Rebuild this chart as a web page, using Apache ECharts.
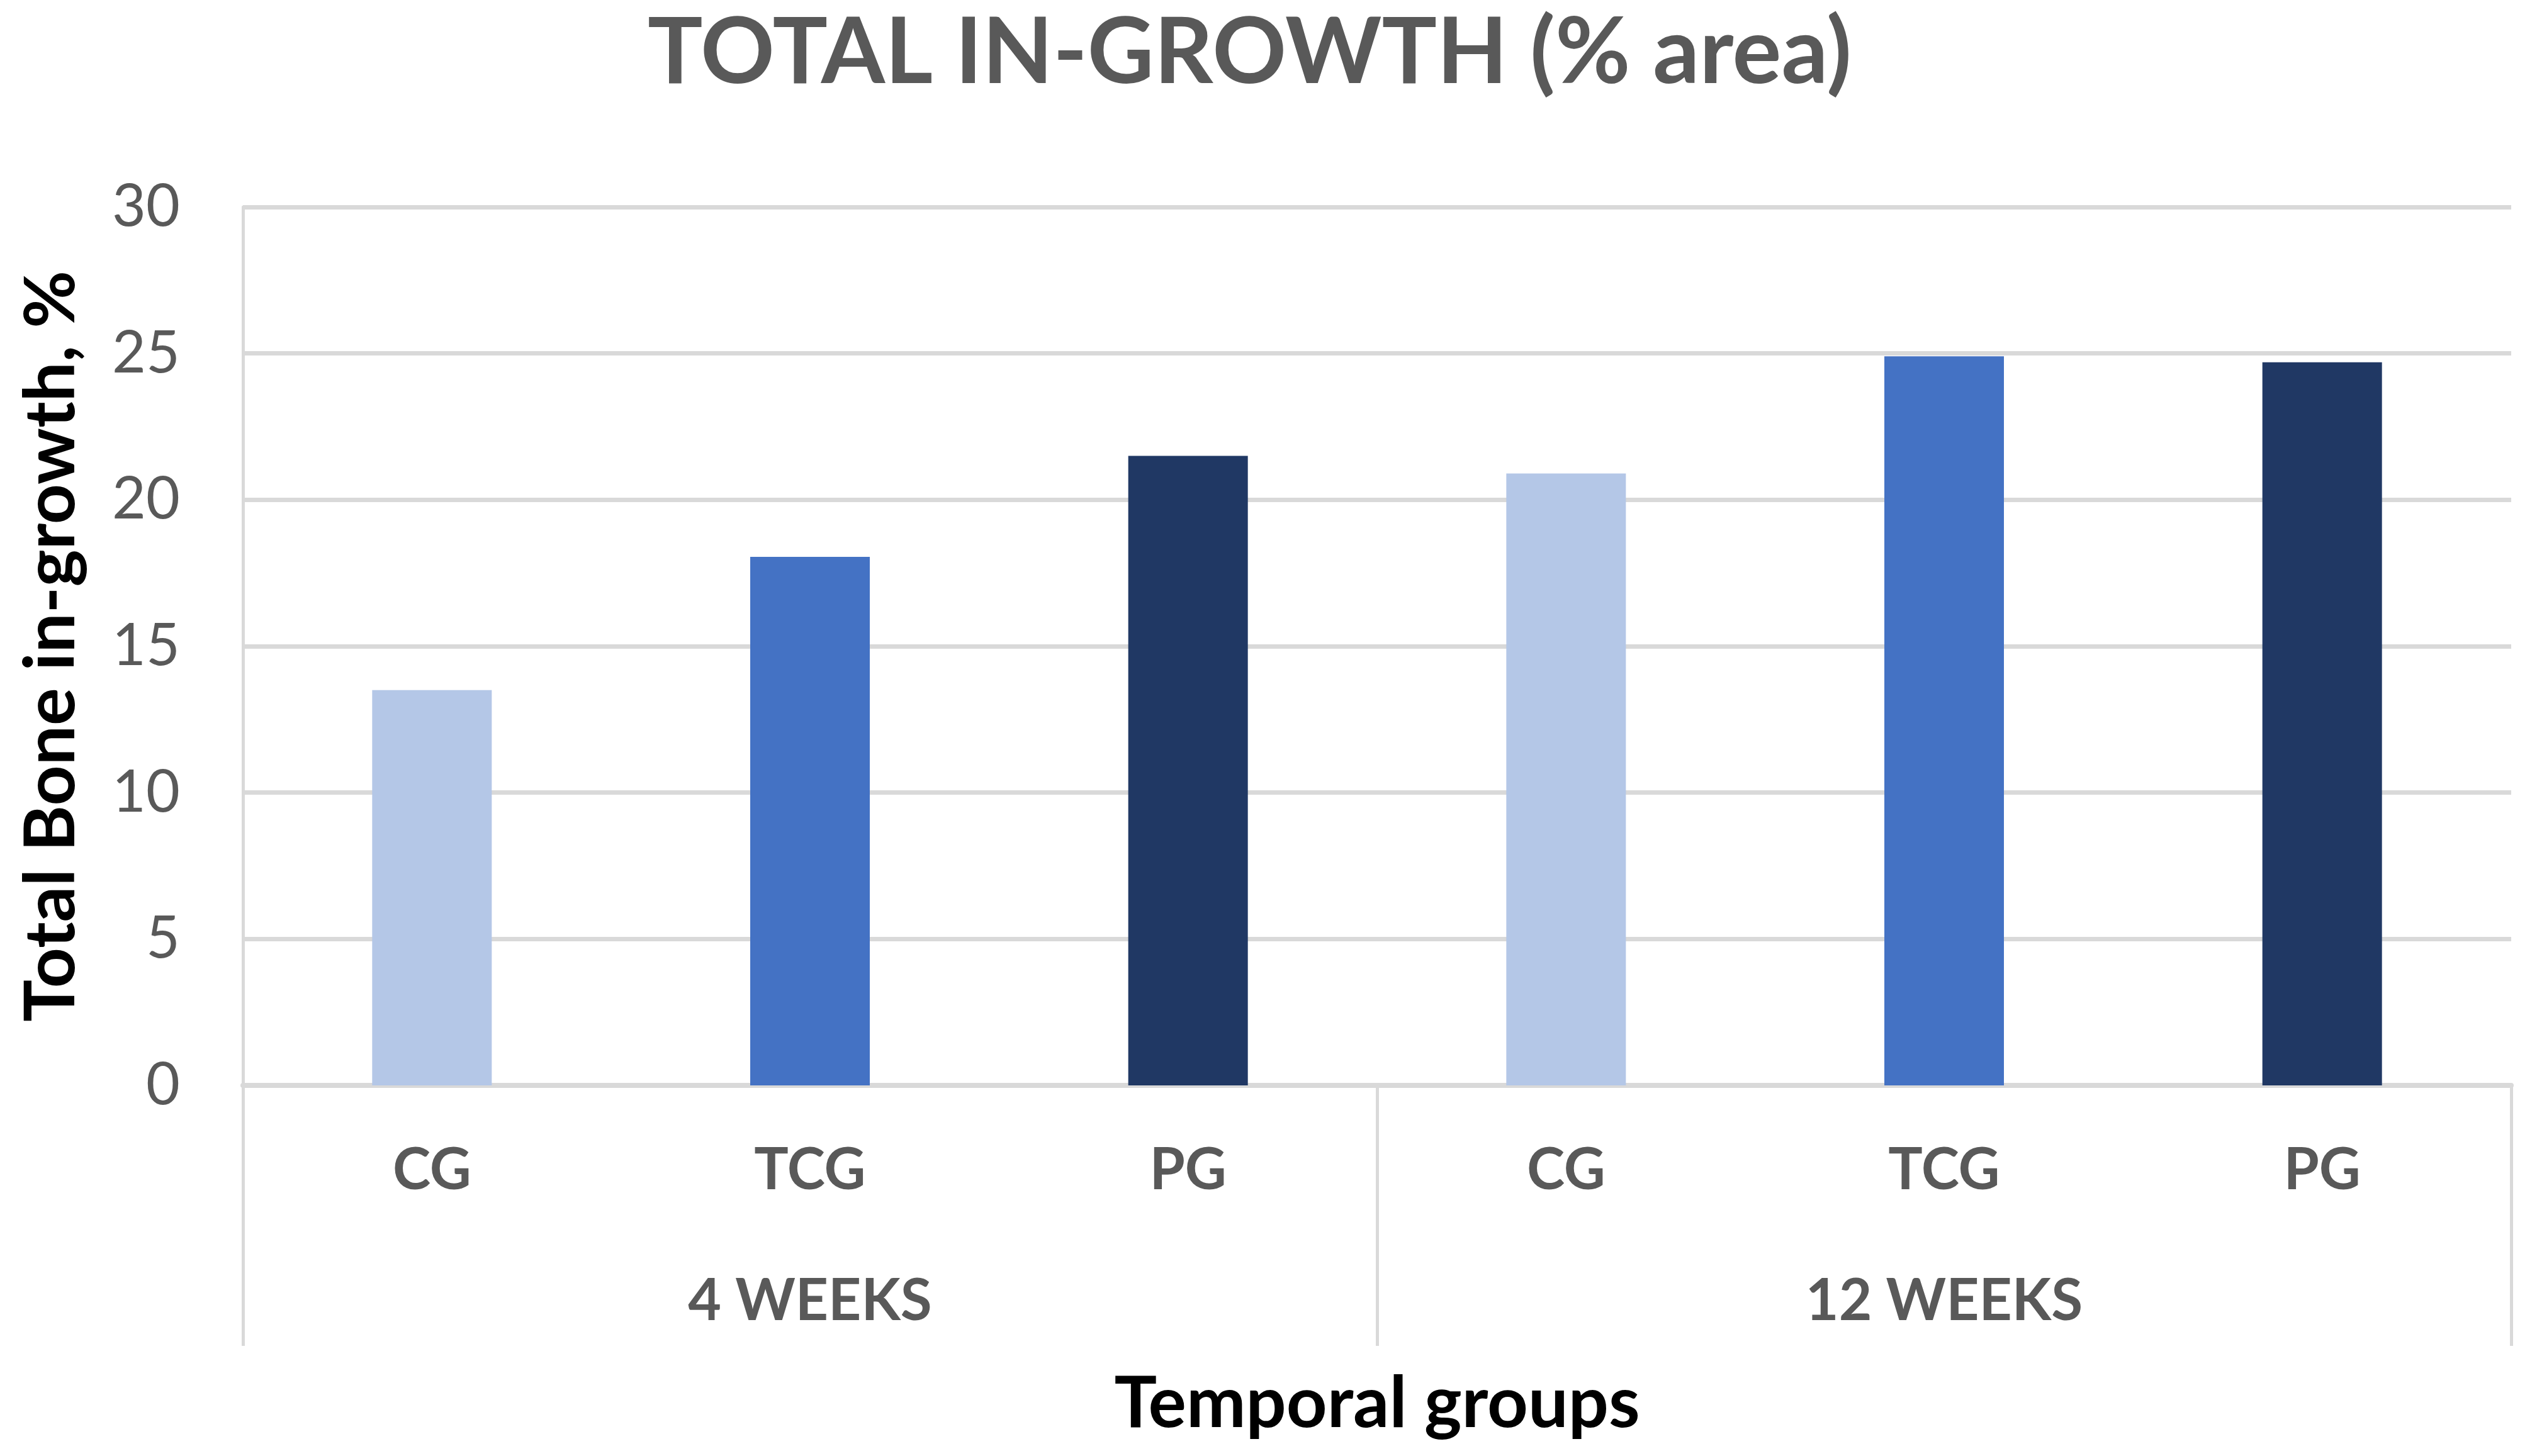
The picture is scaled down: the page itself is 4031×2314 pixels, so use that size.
<!DOCTYPE html>
<html>
<head>
<meta charset="utf-8">
<script src="https://cdn.jsdelivr.net/npm/echarts@6/dist/echarts.min.js"></script>
<style>
html,body{margin:0;padding:0;background:#fff;}
#chart{width:4031px;height:2314px;}
</style>
</head>
<body>
<div id="chart"></div>
<script>
const titleText = 'TOTAL IN-GROWTH (% area)';
const yAxisTitle = 'Total Bone in-growth, %';
const xAxisTitle = 'Temporal groups';
const categories = ['CG', 'TCG', 'PG', 'CG', 'TCG', 'PG'];
const groups = ['4 WEEKS', '12 WEEKS'];
const values = [13.5, 18.05, 21.5, 20.9, 24.9, 24.7];
const barColors = ['#B4C7E7', '#4472C4', '#203864', '#B4C7E7', '#4472C4', '#203864'];
const yTicks = { min: 0, max: 30, interval: 5 };

const FONT = 'Lato';
const chart = echarts.init(document.getElementById('chart'));
chart.setOption({
  backgroundColor: '#ffffff',
  animation: false,
  title: {
    text: titleText,
    left: 1024,
    top: 7,
    textStyle: { fontFamily: FONT, fontWeight: 'bold', fontSize: 146, color: '#595959' }
  },
  grid: { left: 386, right: 41, top: 329, bottom: 589 },
  xAxis: [
    {
      type: 'category',
      data: categories,
      position: 'bottom',
      axisLine: { show: true, lineStyle: { color: '#D9D9D9', width: 8 } },
      axisTick: { show: false },
      axisLabel: { interval: 0, margin: 90, fontFamily: FONT, fontWeight: 'bold', fontSize: 91, color: '#595959' }
    },
    {
      type: 'category',
      data: groups,
      position: 'bottom',
      axisLine: { show: false },
      axisTick: { show: true, interval: 0, length: 414, lineStyle: { color: '#D9D9D9', width: 5 } },
      axisLabel: { interval: 0, margin: 298, fontFamily: FONT, fontWeight: 'bold', fontSize: 91, color: '#595959' },
      name: xAxisTitle,
      nameLocation: 'middle',
      nameGap: 450,
      nameTextStyle: { fontFamily: FONT, fontWeight: 'bold', fontSize: 113, color: '#000000' }
    }
  ],
  yAxis: {
    type: 'value',
    min: yTicks.min,
    max: yTicks.max,
    interval: yTicks.interval,
    axisLine: { show: true, lineStyle: { color: '#D9D9D9', width: 5 } },
    axisTick: { show: false },
    splitLine: { show: true, lineStyle: { color: '#D9D9D9', width: 7 } },
    axisLabel: { margin: 100, fontFamily: FONT, fontSize: 93, color: '#595959' },
    name: yAxisTitle,
    nameLocation: 'middle',
    nameGap: 248,
    nameTextStyle: { fontFamily: FONT, fontWeight: 'bold', fontSize: 112, color: '#000000' }
  },
  series: [{
    type: 'bar',
    xAxisIndex: 0,
    barWidth: 190,
    data: values.map((v, i) => ({ value: v, itemStyle: { color: barColors[i] } }))
  }]
});
</script>
</body>
</html>
